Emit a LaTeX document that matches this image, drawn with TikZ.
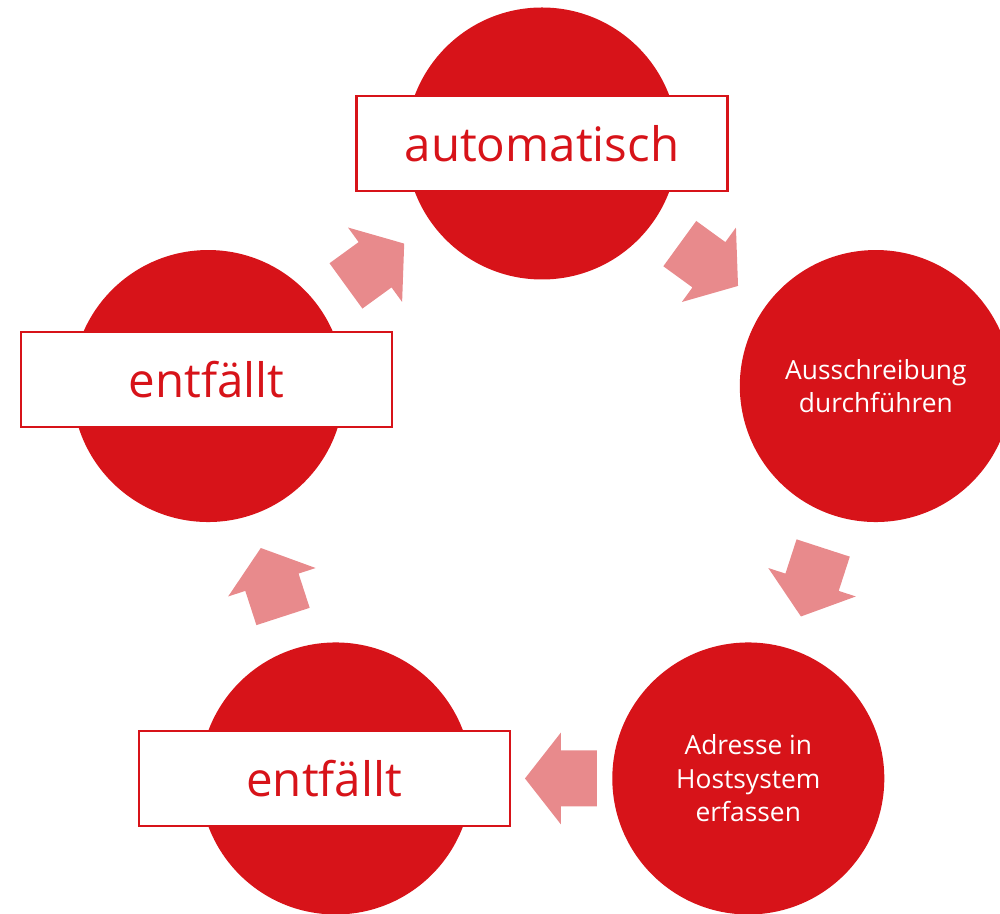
\documentclass[tikz,border=0pt]{standalone}
\usepackage{fontspec}
\setmainfont{Open Sans}
\usetikzlibrary{calc}
\definecolor{cyclered}{RGB}{215,19,25}
\definecolor{arrowred}{RGB}{232,138,140}
\tikzset{
	stepcircle/.style={circle, fill=cyclered, minimum size=5.44cm, inner sep=0pt, text=white, align=center, font=\fontsize{15}{19}\selectfont},
	labelbox/.style={rectangle, draw=cyclered, line width=1.2pt, fill=white, minimum width=7.42cm, minimum height=1.9cm, inner sep=0pt, text=cyclered, font=\fontsize{27}{32}\selectfont}
}
\def\cyclearrow(#1)[#2]{\fill[arrowred, shift={(#1)}, rotate=#2] (-0.72,0.56) -- (0,0.56) -- (0,0.92) -- (0.72,0) -- (0,-0.92) -- (0,-0.56) -- (-0.72,-0.56) -- cycle;}

\begin{document}
\begin{tikzpicture}
	%%%%% START %%%%%
	\useasboundingbox (-10.84, -8.39) rectangle (9.16, 9.89);
	
	\node[stepcircle] (top) at (90:7.02) {};
	\node[stepcircle] (right) at (18:7.02) {Ausschreibung\\durchführen};
	\node[stepcircle] (botright) at (-54:7.02) {Adresse in\\Hostsystem\\erfassen};
	\node[stepcircle] (botleft) at (-126:7.02) {};
	\node[stepcircle] (left) at (162:7.02) {};
	
	\coordinate (arrowA) at ($(top)!0.5!(right)$);
	\coordinate (arrowB) at ($(right)!0.5!(botright)$);
	\coordinate (arrowC) at ($(botright)!0.454!(botleft)$);
	\coordinate (arrowD) at ($(botleft)!0.5!(left)$);
	\coordinate (arrowE) at ($(left)!0.5!(top)$);
	
	\cyclearrow(arrowA)[-36]
	\cyclearrow(arrowB)[-108]
	\cyclearrow(arrowC)[180]
	\cyclearrow(arrowD)[108]
	\cyclearrow(arrowE)[36]
	
	\node[labelbox] (toplabel) at (top) {automatisch};
	\node[labelbox] (leftlabel) at ([shift={(-0.03,0.13)}]left.center) {entfällt};
	\node[labelbox] (botleftlabel) at ([xshift=-0.23cm]botleft.center) {entfällt};
	
	%%%%% END %%%%%
\end{tikzpicture}
\end{document}
